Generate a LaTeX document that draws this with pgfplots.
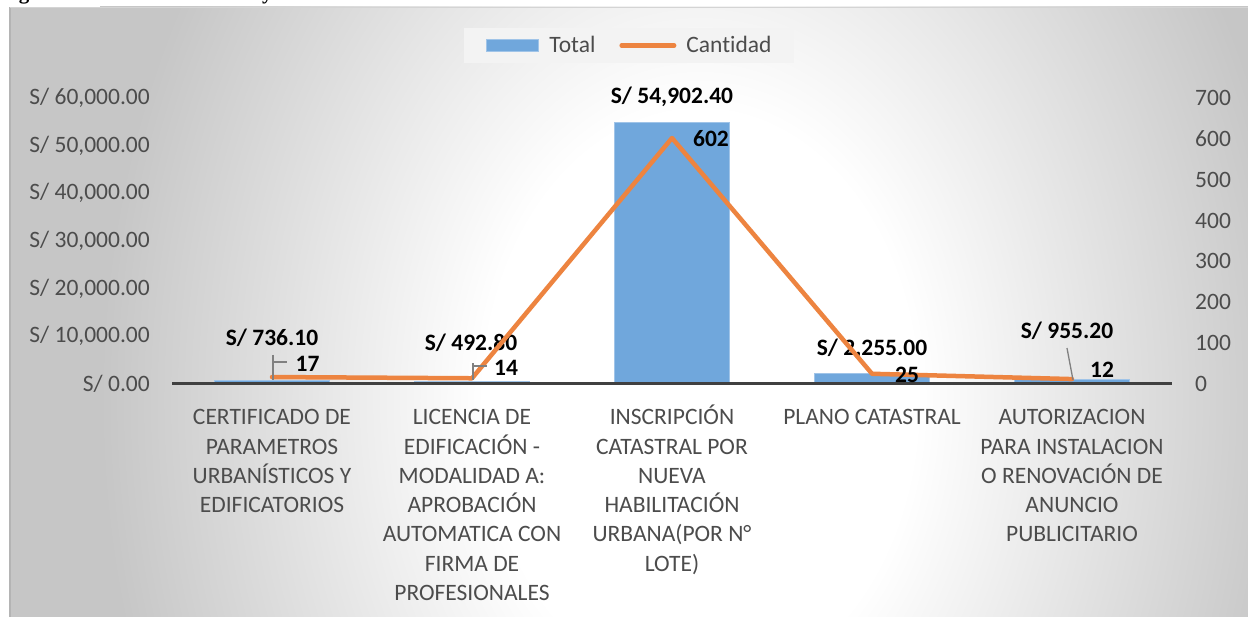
\documentclass[border=0pt]{standalone}
\usepackage{fontspec}
\setmainfont{Carlito}[Ligatures=NoCommon]
\newfontfamily\capfont{Liberation Serif}
\usepackage{pgfplots}
\pgfplotsset{compat=1.18}

\definecolor{bggray}{RGB}{198,198,198}
\definecolor{txtgray}{RGB}{76,76,76}
\definecolor{barblue}{RGB}{112,167,220}
\definecolor{barborder}{RGB}{160,196,232}
\definecolor{lineorange}{RGB}{237,132,64}
\definecolor{axgray}{RGB}{64,64,64}
\definecolor{leadgray}{RGB}{128,128,128}
\definecolor{legfill}{RGB}{243,243,243}

\pgfdeclareradialshading{bgshade}{\pgfpointorigin}{color(0bp)=(white); color(9bp)=(white); color(25bp)=(bggray); color(50bp)=(bggray)}

\newcommand\tfont{\fontsize{23.5bp}{29.3bp}\selectfont}
\newcommand\dfont{\fontsize{23.5bp}{28bp}\selectfont\bfseries}

\begin{document}
\begin{tikzpicture}[x=1bp,y=1bp]
\path[use as bounding box] (0,0) rectangle (1248,617);
% caption fragments (cut off at the top)
\node[anchor=base west, inner sep=0pt, font=\capfont\bfseries\fontsize{21bp}{24bp}\selectfont] at (0,617) {Figura};
\node[anchor=base west, inner sep=0pt, font=\capfont\bfseries\fontsize{21bp}{24bp}\selectfont] at (262,617) {y};
% chart area background
\begin{scope}
\clip (9,0) rectangle (1248,610);
\fill[bggray] (9,0) rectangle (1248,610);
\shade[shading=bgshade] (100,-583) rectangle (1300,1017);
\end{scope}
\draw[color={rgb,255:red,180;green,180;blue,180}, line width=1.5bp] (9.75,0) -- (9.75,609.5);
\draw[color={rgb,255:red,212;green,212;blue,212}, line width=1.2bp] (9.75,609.5) -- (1248,609.5);

\begin{axis}[
  at={(172bp,233bp)}, anchor=south west, scale only axis,
  width=1000bp, height=286bp,
  xmin=-0.5, xmax=4.5, ymin=0, ymax=60000,
  scaled y ticks=false,
  axis line style={draw=none}, major tick length=0pt,
  xtick={0,1,2,3,4},
  xticklabels={
    {\strut CERTIFICADO DE\\PARAMETROS\\URBANÍSTICOS Y\\EDIFICATORIOS},
    {\strut LICENCIA DE\\EDIFICACIÓN -\\MODALIDAD A:\\APROBACIÓN\\AUTOMATICA CON\\FIRMA DE\\PROFESIONALES},
    {\strut INSCRIPCIÓN\\CATASTRAL POR\\NUEVA\\HABILITACIÓN\\URBANA(POR N°\\LOTE)},
    {\strut PLANO CATASTRAL},
    {\strut AUTORIZACION\\PARA INSTALACION\\O RENOVACIÓN DE\\ANUNCIO\\PUBLICITARIO}},
  xticklabel style={anchor=north, align=center, font=\tfont, text=txtgray, inner sep=0pt, yshift=-20bp},
  ytick={0,10000,20000,30000,40000,50000,60000},
  yticklabels={{S/ 0.00},{S/ 10,000.00},{S/ 20,000.00},{S/ 30,000.00},{S/ 40,000.00},{S/ 50,000.00},{S/ 60,000.00}},
  yticklabel style={anchor=east, inner sep=0pt, xshift=-22bp, font=\tfont, text=txtgray},
  ybar, bar width=115bp,
  clip=false,
]
\addplot[fill=barblue, draw=barborder, line width=0.8bp] coordinates {(0,736.10) (1,492.80) (2,54902.40) (3,2255.00) (4,955.20)};
\draw[axgray, line width=3bp] (axis cs:-0.5,0) -- (axis cs:4.5,0);
\node[font=\dfont] at (axis cs:0,9650) {S/ 736.10};
\node[font=\dfont] at (axis cs:0.995,8601) {S/ 492.80};
\node[font=\dfont] at (axis cs:2,60210) {S/ 54,902.40};
\node[font=\dfont] at (axis cs:3,7343) {S/ 2,255.00};
\node[font=\dfont] at (axis cs:3.975,11119) {S/ 955.20};
\end{axis}

\begin{axis}[
  at={(172bp,233bp)}, anchor=south west, scale only axis,
  width=1000bp, height=286bp,
  xmin=-0.5, xmax=4.5, ymin=0, ymax=700,
  axis line style={draw=none}, major tick length=0pt,
  xtick=\empty,
  ytick={0,100,200,300,400,500,600,700},
  yticklabels={0,100,200,300,400,500,600,700},
  yticklabel pos=right,
  yticklabel style={anchor=west, inner sep=0pt, xshift=23bp, font=\tfont, text=txtgray},
  clip=false,
  legend columns=2,
  legend style={at={(0.457,1.1836)}, anchor=center, draw=none, fill=legfill,
    font=\fontsize{23.5bp}{28bp}\selectfont, text=txtgray,
    inner xsep=22bp, inner ysep=9bp,
    nodes={inner sep=0pt},
    /tikz/every odd column/.append style={column sep=10bp},
    /tikz/every even column/.append style={column sep=24bp}},
]
\addlegendimage{legend image code/.code={\fill[barblue, draw=barborder, line width=1bp] (0bp,-6bp) rectangle (52bp,6bp);}}
\addlegendentry{Total}
\addplot[lineorange, line width=4.5bp, line join=round, line cap=round, mark=none,
  legend image code/.code={\draw[lineorange, line width=4.5bp, line cap=round] (2.25bp,0bp) -- (54.75bp,0bp);}]
  coordinates {(0,17) (1,14) (2,602) (3,25) (4,12)};
\addlegendentry{Cantidad}
% leader lines
\draw[leadgray, line width=1.3bp] (axis cs:0.005,71) -- (axis cs:0.005,10);
\draw[leadgray, line width=1.3bp] (axis cs:0.005,54) -- (axis cs:0.075,54);
\draw[leadgray, line width=1.3bp] (axis cs:1.005,51) -- (axis cs:1.005,10);
\draw[leadgray, line width=1.3bp] (axis cs:1.005,44) -- (axis cs:1.075,44);
\draw[leadgray, line width=1.3bp] (axis cs:3.975,88) -- (axis cs:4.005,10);
% line data labels
\node[font=\dfont] at (axis cs:0.1775,49) {17};
\node[font=\dfont] at (axis cs:1.17,39) {14};
\node[font=\dfont] at (axis cs:2.195,600) {602};
\node[font=\dfont] at (axis cs:3.175,22) {25};
\node[font=\dfont] at (axis cs:4.15,34) {12};
\end{axis}
\end{tikzpicture}
\end{document}
